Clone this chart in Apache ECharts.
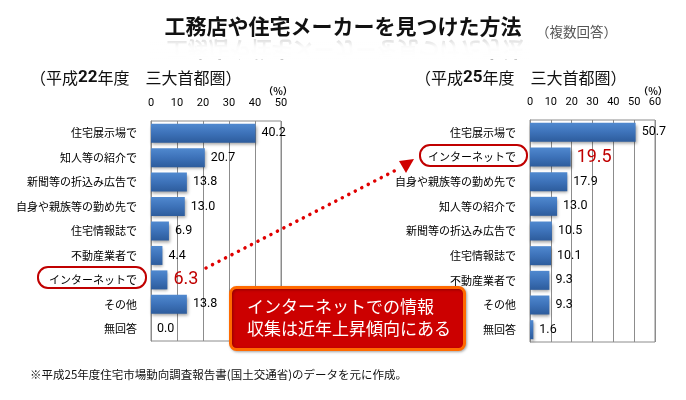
<!DOCTYPE html>
<html><head><meta charset="utf-8">
<script src="https://cdn.jsdelivr.net/npm/echarts@6/dist/echarts.min.js"></script>
<style>html,body{margin:0;padding:0;background:#fff}#c{width:686px;height:400px}</style>
</head><body><div id="c"></div>
<script>
const cats22 = ['住宅展示場で','知人等の紹介で','新聞等の折込み広告で','自身や親族等の勤め先で','住宅情報誌で','不動産業者で','インターネットで','その他','無回答'];
const vals22 = [40.2, 20.7, 13.8, 13.0, 6.9, 4.4, 6.3, 13.8, 0.0];
const cats25 = ['住宅展示場で','インターネットで','自身や親族等の勤め先で','知人等の紹介で','新聞等の折込み広告で','住宅情報誌で','不動産業者で','その他','無回答'];
const vals25 = [50.7, 19.5, 17.9, 13.0, 10.5, 10.1, 9.3, 9.3, 1.6];
const ticks22 = [0, 10, 20, 30, 40, 50];
const ticks25 = [0, 10, 20, 30, 40, 50, 60];
const highlight = 'インターネットで';

const JP = '"Noto Sans CJK JP", sans-serif';
const chart = echarts.init(document.getElementById('c'), null, {renderer: 'canvas'});
const barColor = new echarts.graphic.LinearGradient(0, 0, 0, 1, [
  {offset: 0, color: '#5089cf'}, {offset: 0.5, color: '#3d72b9'}, {offset: 1, color: '#2d5c9c'}
]);
function mk(cats, vals) {
  return vals.map((v, i) => {
    const hi = cats[i] === highlight;
    return {
      value: v,
      label: hi ? {color: '#c00000', fontSize: 18, fontFamily: 'Roboto, sans-serif', distance: 6} : undefined
    };
  });
}
function xAx(idx, max) {
  return {
    gridIndex: idx, type: 'value', position: 'top', min: 0, max: max, interval: 10,
    axisLine: {show: false}, axisTick: {show: false},
    axisLabel: {fontSize: 11, color: '#000', margin: 12, fontFamily: 'Roboto, sans-serif'},
    splitLine: {show: true, lineStyle: {color: '#8c8c8c', width: 1}}
  };
}
function yAx(idx, cats) {
  return {
    gridIndex: idx, type: 'category', data: cats, inverse: true,
    axisLine: {show: true, lineStyle: {color: '#8c8c8c'}}, axisTick: {show: false},
    axisLabel: {fontSize: 11, color: '#000', margin: 14, fontFamily: JP}
  };
}
function ser(idx, cats, vals) {
  return {
    type: 'bar', xAxisIndex: idx, yAxisIndex: idx, data: mk(cats, vals), barWidth: 19,
    itemStyle: {color: barColor, shadowColor: 'rgba(0,0,0,0.35)', shadowBlur: 3, shadowOffsetX: 1, shadowOffsetY: 2},
    label: {show: true, position: 'right', distance: 6, fontSize: 12.5, color: '#000', fontFamily: 'Roboto, sans-serif',
      formatter: p => Number(p.value).toFixed(1)},
    silent: true, animation: false
  };
}
const reflectGrad = new echarts.graphic.LinearGradient(0, 0, 0, 1, [
  {offset: 0, color: 'rgba(255,255,255,0.55)'}, {offset: 0.4, color: 'rgba(255,255,255,0.97)'}, {offset: 1, color: '#fff'}
]);
const subRich = {b: {fontSize: 17, fontWeight: 'bold', fill: '#111', fontFamily: 'Roboto, sans-serif'}};
chart.setOption({
  animation: false,
  grid: [
    {left: 151, top: 121, width: 130, height: 220, show: true, borderColor: '#8c8c8c', borderWidth: 1, backgroundColor: 'transparent'},
    {left: 530, top: 120, width: 125, height: 222, show: true, borderColor: '#8c8c8c', borderWidth: 1, backgroundColor: 'transparent'}
  ],
  xAxis: [xAx(0, ticks22[ticks22.length - 1]), xAx(1, ticks25[ticks25.length - 1])],
  yAxis: [yAx(0, cats22), yAx(1, cats25)],
  series: [ser(0, cats22, vals22), ser(1, cats25, vals25)],
  graphic: [
    {type: 'text', left: 'center', top: 16, z: 10, style: {text: '工務店や住宅メーカーを見つけた方法', fontSize: 21, fontWeight: 'bold', fill: '#111', fontFamily: JP}},
    {type: 'text', x: 345, y: 50, scaleY: -1, z: 9, style: {text: '工務店や住宅メーカーを見つけた方法', fontSize: 21, fontWeight: 'bold', fill: 'rgba(0,0,0,0.3)', fontFamily: JP, textAlign: 'center', textVerticalAlign: 'middle'}},
    {type: 'rect', shape: {x: 150, y: 39, width: 380, height: 20}, z: 9.5, style: {fill: reflectGrad}},
    {type: 'text', x: 536, y: 32, style: {text: '（複数回答）', fontSize: 13.5, fill: '#555', fontFamily: JP, textVerticalAlign: 'middle'}},
    {type: 'text', x: 30, y: 78, style: {text: '（平成{b|22}年度　三大首都圏）', fontSize: 16, fill: '#111', fontFamily: JP, textVerticalAlign: 'middle', rich: subRich}},
    {type: 'text', x: 415, y: 78, style: {text: '（平成{b|25}年度　三大首都圏）', fontSize: 16, fill: '#111', fontFamily: JP, textVerticalAlign: 'middle', rich: subRich}},
    {type: 'text', x: 278, y: 91, style: {text: '（%）', fontSize: 10, fontWeight: 'bold', fill: '#111', fontFamily: JP, textAlign: 'center', textVerticalAlign: 'middle'}},
    {type: 'text', x: 653, y: 91, style: {text: '（%）', fontSize: 10, fontWeight: 'bold', fill: '#111', fontFamily: JP, textAlign: 'center', textVerticalAlign: 'middle'}},
    {type: 'rect', shape: {x: 38, y: 267, width: 108, height: 21, r: 10}, style: {fill: 'none', stroke: '#c00000', lineWidth: 2}},
    {type: 'rect', shape: {x: 420, y: 145, width: 107, height: 21, r: 10}, style: {fill: 'none', stroke: '#c00000', lineWidth: 2}},
    {type: 'line', shape: {x1: 206, y1: 268, x2: 400, y2: 168}, z: 20, style: {stroke: '#e00000', lineWidth: 3.5, lineDash: [0.1, 7.2], lineCap: 'round'}},
    {type: 'polygon', shape: {points: [[414, 159], [399, 161], [406, 173]]}, z: 20, style: {fill: '#d00000'}},
    {type: 'rect', shape: {x: 230.5, y: 287.5, width: 234, height: 62, r: 6}, z: 30, style: {fill: '#cc0000', stroke: '#ff6a00', lineWidth: 3, shadowColor: 'rgba(0,0,0,0.3)', shadowBlur: 3, shadowOffsetX: 1, shadowOffsetY: 1}},
    {type: 'text', x: 247, y: 307, z: 31, style: {text: 'インターネットでの情報', fontSize: 17, fill: '#fff', fontFamily: JP, textVerticalAlign: 'middle'}},
    {type: 'text', x: 247, y: 329, z: 31, style: {text: '収集は近年上昇傾向にある', fontSize: 17, fill: '#fff', fontFamily: JP, textVerticalAlign: 'middle'}},
    {type: 'text', x: 30, y: 375, style: {text: '※平成25年度住宅市場動向調査報告書(国土交通省)のデータを元に作成。', fontSize: 11.5, fill: '#111', fontFamily: JP, textVerticalAlign: 'middle'}}
  ]
});
</script></body></html>
